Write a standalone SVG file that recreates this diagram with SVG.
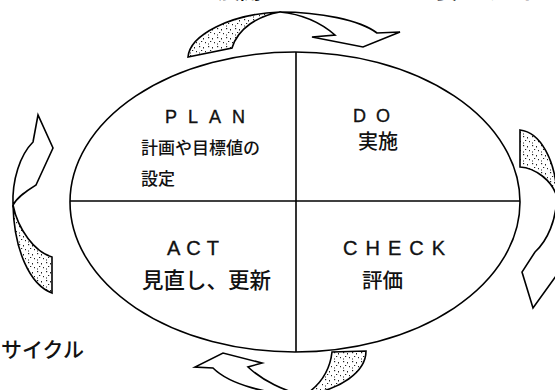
<svg xmlns="http://www.w3.org/2000/svg" width="555" height="390" viewBox="0 0 555 390">
<style>
.ln{fill:none;stroke:#000;stroke-width:1.6}
.ar{fill:#fff;stroke:#000;stroke-width:1.6;stroke-linejoin:miter}
.tl{fill:url(#dots);stroke:#000;stroke-width:1.6}
.lat{font-family:"Liberation Sans",Arial,sans-serif;fill:#111;stroke:#111;stroke-width:0.35}
.jp{font-family:"Noto Sans CJK JP","Noto Sans",sans-serif;fill:#111;font-weight:500}
</style>
<defs>
<pattern id="dots" patternUnits="userSpaceOnUse" width="9" height="9">
<rect width="9" height="9" fill="#fff"/>
<rect x="1" y="1" width="1.2" height="1.2" fill="#222"/>
<rect x="5" y="2" width="1" height="1.5" fill="#222"/>
<rect x="3" y="5" width="1.2" height="1" fill="#222"/>
<rect x="7" y="6" width="1" height="1.2" fill="#222"/>
<rect x="1" y="7.5" width="1" height="1" fill="#222"/>
</pattern>
</defs>
<text class="jp" x="0" y="-2" font-size="22" textLength="545" lengthAdjust="spacing">このようなサイクルを展開していくことが必要である。</text>
<g id="cycle">
<ellipse class="ln" cx="295" cy="202" rx="225" ry="150"/>
</g>
<g id="connectors">
<line class="ln" x1="296" y1="52" x2="296" y2="352"/>
<line class="ln" x1="70" y1="201" x2="520" y2="201"/>
</g>
<g id="plan">
<text class="lat" x="165" y="123" font-size="18" letter-spacing="11">PLAN</text>
<text class="jp" x="141" y="154" font-size="17">計画や目標値の</text>
<text class="jp" x="141" y="185" font-size="17">設定</text>
</g>
<g id="do">
<text class="lat" x="353" y="122" font-size="18" letter-spacing="10">DO</text>
<text class="jp" x="358" y="149" font-size="20">実施</text>
</g>
<g id="act">
<text class="lat" x="167" y="255" font-size="20" letter-spacing="6">ACT</text>
<text class="jp" x="142" y="288" font-size="21.5">見直し、更新</text>
</g>
<g id="check">
<text class="lat" x="343" y="255" font-size="20" letter-spacing="8">CHECK</text>
<text class="jp" x="362" y="288" font-size="20.5">評価</text>
</g>
<g id="caption">
<text class="jp" x="1" y="357" font-size="21" font-weight="300">サイクル</text>
</g>
<g id="arrow-top">
<path class="tl" d="M188,57 C190,35 230,14 280,12 C258,16 238,28 232,48 Z"/>
<path class="ar" d="M280,12 C320,12 360,20 377,33 L400,32 L363,47 L312,37 L335,35 C320,22 300,14 280,12 Z"/>
</g>
<g id="arrow-right">
<path class="tl" d="M520,130 C540,132 556,160 557,197 C552,180 535,168 520,167 Z"/>
<path class="ar" d="M557,197 C562,215 562,240 560,258 L566,262 L533,308 L522,272 L535,252 C548,240 556,220 557,197 Z"/>
</g>
<g id="arrow-bottom">
<path class="tl" d="M366,351 C366,372 340,390 305,395 C320,385 330,370 332,352 Z"/>
<path class="ar" d="M305,395 C270,395 230,385 213,368 L195,367 L223,353 L262,363 L248,367 C262,380 285,392 305,395 Z"/>
</g>
<g id="arrow-left">
<path class="tl" d="M52,293 C30,285 14,250 13,205 C18,230 35,252 52,257 Z"/>
<path class="ar" d="M13,205 C12,180 20,155 33,142 L38,115 L53,148 L36,185 C28,190 18,196 13,205 Z"/>
</g>
</svg>
